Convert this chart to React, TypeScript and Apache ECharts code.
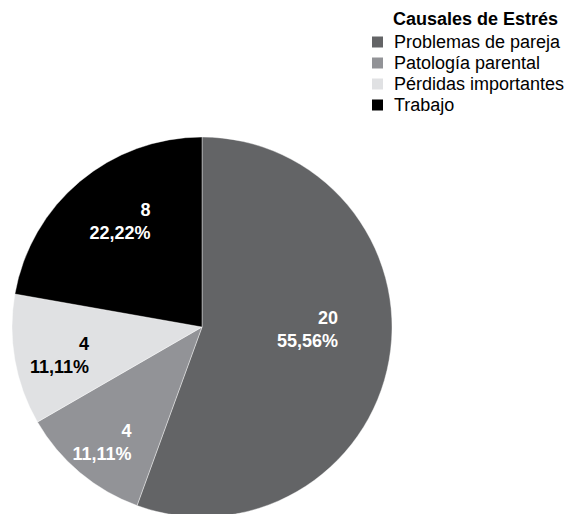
import React, { useEffect, useRef } from "react";
import * as echarts from "echarts";

const legendTitle = "Causales de Estrés";
const categories = ["Problemas de pareja", "Patología parental", "Pérdidas importantes", "Trabajo"];
const values = [20, 4, 4, 8];
const colors = ["#636466", "#929397", "#e0e1e3", "#000000"];
const labelColors = ["#ffffff", "#ffffff", "#000000", "#ffffff"];
const labelOffsets = [
  [9, -15],
  [-37, 40],
  [-46, 11],
  [-19, -30],
];

export default function App() {
  const ref = useRef<HTMLDivElement>(null);
  useEffect(() => {
    if (!ref.current) return;
    const chart = echarts.init(ref.current, null, { renderer: "svg" });
    const font = "'Liberation Sans', Arial, Helvetica, sans-serif";
    const total = values.reduce((a, b) => a + b, 0);
    chart.setOption({
      animation: false,
      backgroundColor: "#ffffff",
      title: {
        text: legendTitle,
        left: 393,
        top: 10,
        padding: 0,
        textStyle: { fontFamily: font, fontSize: 18, fontWeight: "bold", color: "#000" },
      },
      legend: {
        orient: "vertical",
        left: 370,
        top: 32,
        padding: 0,
        icon: "rect",
        itemWidth: 13,
        itemHeight: 13,
        itemGap: 1,
        selectedMode: false,
        data: categories,
        textStyle: {
          fontFamily: font,
          fontSize: 18,
          color: "#000",
          lineHeight: 20,
          padding: [0, 0, 0, 5],
        },
      },
      series: [
        {
          type: "pie",
          center: [202, 327],
          radius: 190,
          startAngle: 90,
          clockwise: true,
          avoidLabelOverlap: false,
          itemStyle: { borderColor: "#ffffff", borderWidth: 0.4 },
          label: {
            show: true,
            position: "inside",
            fontFamily: font,
            formatter: (p: any) => {
              const pct = (Math.round((p.value / total) * 10000) / 100)
                .toFixed(2)
                .replace(".", ",");
              return `{a|${p.value}}\n{a|${pct}%}`;
            },
            rich: {
              a: {
                fontFamily: font,
                fontSize: 18,
                fontWeight: "bold",
                align: "right",
                lineHeight: 23,
              },
            },
          },
          labelLayout: (params: any) => {
            const o = labelOffsets[params.dataIndex];
            return { dx: o[0], dy: o[1] };
          },
          labelLine: { show: false },
          data: categories.map((name, i) => ({
            name,
            value: values[i],
            itemStyle: { color: colors[i] },
            label: { color: labelColors[i], rich: { a: { color: labelColors[i] } } },
          })),
        },
      ],
    });
    return () => chart.dispose();
  }, []);
  return (
    <div
      ref={ref}
      style={{ position: "fixed", left: 0, top: 0, width: 564, height: 514 }}
    />
  );
}
